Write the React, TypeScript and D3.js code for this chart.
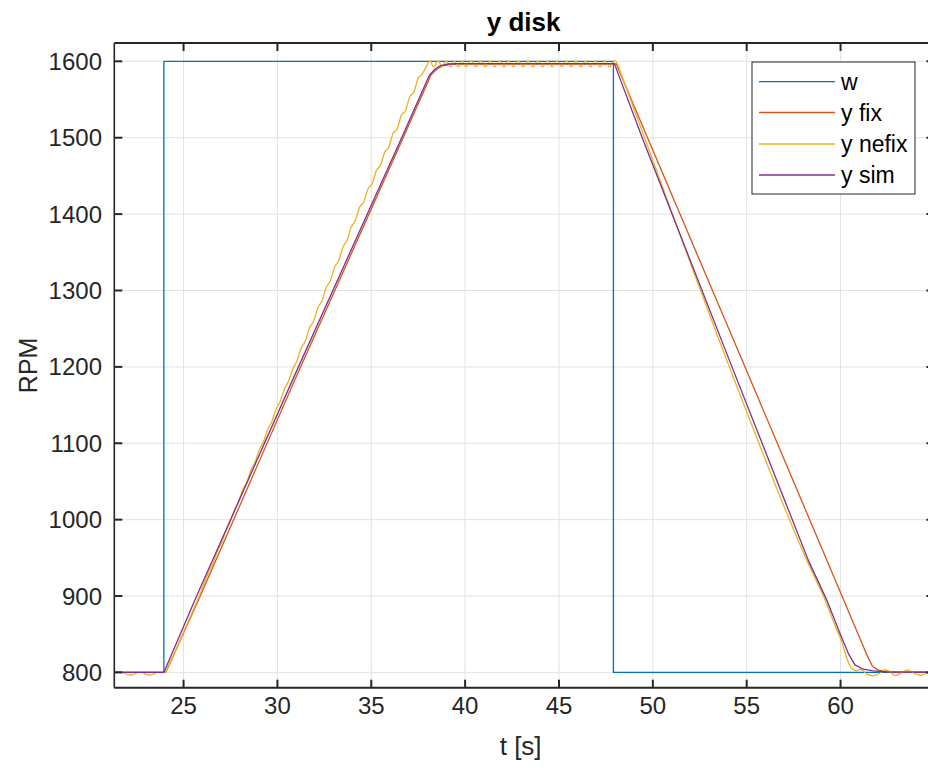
import React from 'react';
import * as d3 from 'd3';

// ---- data ----
const xTicks = [25, 30, 35, 40, 45, 50, 55, 60];
const yTicks = [800, 900, 1000, 1100, 1200, 1300, 1400, 1500, 1600];
const seriesNames = ['w', 'y fix', 'y nefix', 'y sim'];
const seriesColors = ['#0072BD', '#D95319', '#EDB120', '#7E2F8E'];

const wT = [21.31, 23.95, 23.95, 47.9, 47.9, 65];
const wV = [800, 800, 1600, 1600, 800, 800];

const fixT = [21.31, 24.05, 25.8, 30.93, 36.7, 38.18, 38.5, 38.8, 39.2, 39.7, 48.05, 49.77, 54.89, 60.06, 61.4, 61.7, 62.0, 62.5, 63.2, 65];
const fixV = [800, 800, 895, 1183, 1500, 1582, 1590, 1594, 1596, 1596.5, 1596.5, 1497, 1201, 901, 823, 808, 803, 801, 800.5, 800.3];

const simT = [21.31, 23.95, 25.61, 30.81, 36.62, 38.1, 38.4, 38.7, 39.1, 39.6, 47.95, 49.48, 54.2, 58.28, 59.26, 59.97, 60.41, 60.77, 61.21, 61.74, 62.46, 65];
const simV = [800, 800, 895, 1183, 1500, 1582, 1590, 1594.5, 1596.5, 1597, 1597, 1497, 1201, 947, 895, 851, 825, 809.8, 804.2, 802, 800.7, 800.2];

const nefixT = [21.31, 21.7, 22.15, 22.68, 23.17, 23.65, 24.0, 24.15, 24.9, 25.75,
  26.38, 26.58, 26.825, 27.025, 27.27, 27.47, 27.715, 27.915, 28.16, 28.36, 28.605, 28.805,
  29.05, 29.25, 29.495, 29.695, 29.94, 30.14, 30.385, 30.585, 30.83, 31.03, 31.275, 31.475,
  31.72, 31.92, 32.165, 32.365, 32.61, 32.81, 33.055, 33.255, 33.5, 33.7, 33.945, 34.145,
  34.39, 34.59, 34.835, 35.035, 35.28, 35.48, 35.725, 35.925, 36.17, 36.37, 36.615, 36.815,
  37.06, 37.26, 37.505, 37.705, 37.95, 38.13,
  38.32, 38.56, 38.78, 39.0, 39.22, 39.43, 39.64, 39.85, 40.05, 40.31, 40.57, 40.82, 41.08, 41.33,
  41.58, 41.82, 42.07, 42.32, 42.57, 42.83, 43.1, 43.36, 43.62, 43.87, 44.13, 44.38, 44.64, 44.89,
  45.15, 45.4, 45.66, 45.91, 46.17, 46.42, 46.68, 46.93, 47.19, 47.44, 47.7, 47.97,
  48.1, 48.3, 49.6, 54.06, 58.2, 59.17, 59.8, 60.06, 60.33, 60.59, 60.86, 61.04, 61.39, 61.74, 62.1,
  62.37, 62.63, 62.9, 63.25, 63.55, 63.87, 64.23, 64.6, 65];
const nefixV = [800, 800.2, 796.4, 800.3, 796.4, 800, 799.8, 805.5, 847.5, 895,
  933.4, 943.3, 959.9, 969.7, 986.3, 996.2, 1012.7, 1022.6, 1039.7, 1048.5, 1066.1, 1075,
  1092.5, 1101.4, 1119, 1127.8, 1145.4, 1154.3, 1171.8, 1180.7, 1198.3, 1207.1, 1225.2, 1233.1,
  1251.6, 1259.5, 1278.1, 1286, 1304.5, 1312.4, 1331, 1338.8, 1357.4, 1365.3, 1383.8, 1391.3,
  1409.5, 1415.3, 1433.6, 1439.4, 1457.6, 1463.4, 1481.5, 1487.3, 1506.2, 1511, 1530.2, 1535,
  1554.3, 1559.1, 1578.3, 1583, 1594, 1600.5,
  1592.8, 1600.5, 1592.8, 1600.5, 1592.8, 1600.5, 1592.8, 1600.5, 1592.8, 1600.5, 1592.8, 1600.5, 1592.8, 1600.5,
  1592.8, 1600.5, 1592.8, 1600.5, 1592.8, 1600.5, 1592.8, 1600.5, 1592.8, 1600.5, 1592.8, 1600.5, 1592.8, 1600.5,
  1592.8, 1600.5, 1592.8, 1600.5, 1592.8, 1600.5, 1592.8, 1600.5, 1592.8, 1600.5, 1592.8, 1600.8,
  1597, 1584, 1497, 1201, 947, 895, 855.6, 840.3, 818.6, 805.5, 802.4, 804.4, 798, 795.6, 799,
  803.5, 801, 795.8, 799.7, 803.3, 799.7, 796.3, 799, 802];

const FONT = '"Liberation Sans", Arial, Helvetica, sans-serif';
const INK = '#262626';

export default function App() {
  const W = 928, H = 767;
  const L = 114.3, R = 934.4, T = 43, B = 687.7;
  const x = d3.scaleLinear().domain([21.31, 65]).range([L, R]);
  const y = d3.scaleLinear().domain([780, 1624]).range([B, T]);

  const mk = (ts: number[], vs: number[], curve: any) =>
    d3.line<number>().x((_, i) => x(ts[i])).y((v) => y(v)).curve(curve)(vs) || '';

  const paths = [
    mk(wT, wV, d3.curveLinear),
    mk(fixT, fixV, d3.curveLinear),
    mk(nefixT, nefixV, d3.curveMonotoneX),
    mk(simT, simV, d3.curveLinear),
  ];

  const tick = 8;
  const legX = 752, legY = 62, legW = 163, legH = 132;
  const rowY = [81.7, 112.5, 144, 175];
  const midX = (L + 927) / 2;

  return (
    <svg width={W} height={H} style={{ position: 'absolute', left: 0, top: 0, background: '#fff' }}
      fontFamily={FONT}>
      <rect x={0} y={0} width={W} height={H} fill="#fff" />
      <defs>
        <clipPath id="plot"><rect x={L} y={T} width={R - L} height={B - T} /></clipPath>
      </defs>
      {/* grid */}
      <g stroke="#e2e2e2" strokeWidth={1}>
        {xTicks.map((t) => <line key={'gx' + t} x1={x(t)} x2={x(t)} y1={T} y2={B} />)}
        {yTicks.map((v) => <line key={'gy' + v} x1={L} x2={R} y1={y(v)} y2={y(v)} />)}
      </g>
      {/* series */}
      <g clipPath="url(#plot)" fill="none" strokeWidth={1.3} strokeLinejoin="round">
        {paths.map((d, i) => <path key={i} d={d} stroke={seriesColors[i]} />)}
      </g>
      {/* box */}
      <g stroke={INK} fill="none">
        <line x1={L} x2={R} y1={T} y2={T} strokeWidth={2} />
        <line x1={L} x2={R} y1={B} y2={B} strokeWidth={2} />
        <line x1={L} x2={L} y1={T} y2={B} strokeWidth={1.6} />
        <line x1={R} x2={R} y1={T} y2={B} strokeWidth={1.6} />
        {xTicks.map((t) => (
          <g key={'tx' + t} strokeWidth={2}>
            <line x1={x(t)} x2={x(t)} y1={B} y2={B - tick} />
            <line x1={x(t)} x2={x(t)} y1={T} y2={T + tick} />
          </g>
        ))}
        {yTicks.map((v) => (
          <g key={'ty' + v} strokeWidth={2}>
            <line x1={L} x2={L + tick} y1={y(v)} y2={y(v)} />
            <line x1={R} x2={R - tick} y1={y(v)} y2={y(v)} />
          </g>
        ))}
      </g>
      {/* tick labels */}
      <g fill={INK} fontSize={24}>
        {xTicks.map((t) => (
          <text key={'lx' + t} x={x(t)} y={714} textAnchor="middle">{t}</text>
        ))}
        {yTicks.map((v) => (
          <text key={'ly' + v} x={102} y={y(v) + 8.5} textAnchor="end">{v}</text>
        ))}
      </g>
      {/* axis labels and title */}
      <text x={midX} y={755} textAnchor="middle" fill={INK} fontSize={26}>t [s]</text>
      <text transform={`translate(37, ${(T + B) / 2}) rotate(-90)`} textAnchor="middle" fill={INK} fontSize={25}>RPM</text>
      <text x={midX + 3} y={31} textAnchor="middle" fill="#000" fontSize={26} fontWeight="bold">y disk</text>
      {/* legend */}
      <rect x={legX} y={legY} width={legW} height={legH} fill="#fff" stroke={INK} strokeWidth={1} />
      {seriesNames.map((n, i) => (
        <g key={n}>
          <line x1={759} x2={835} y1={rowY[i]} y2={rowY[i]} stroke={seriesColors[i]} strokeWidth={1.3} />
          <text x={841} y={rowY[i] + 8} fontSize={23} fill="#000">{n}</text>
        </g>
      ))}
    </svg>
  );
}
